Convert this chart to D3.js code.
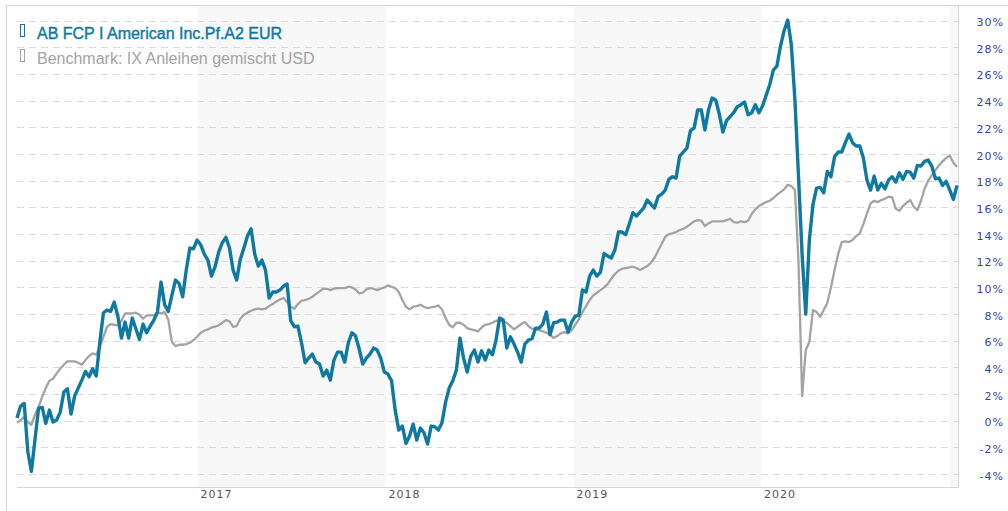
<!DOCTYPE html>
<html><head><meta charset="utf-8">
<script src="https://cdn.jsdelivr.net/npm/d3@7"></script>
<style>html,body{margin:0;padding:0;background:#fff;} svg{display:block}</style>
</head><body>
<svg id="chart" width="1008" height="511"></svg>
<script>
const seriesNames = ["AB FCP I American Inc.Pf.A2 EUR", "Benchmark: IX Anleihen gemischt USD"];
const seriesColors = ["#0f79a0", "#a3a3a3"];
const startDate = "2016-01-15";   // first weekly observation
const stepDays = 7;               // weekly observations
const fundValues = [
 0.2, 1.1, 1.3, -2.3, -3.8, -1.4, 0.95, 1.0, -0.2, 0.8,
 -0.1, 0.05, 0.65, 2.15, 2.4, 0.5, 1.85, 2.45, 3.05, 3.7,
 3.3, 3.9, 3.35, 5.9, 8.1, 8.3, 8.2, 8.9, 7.85, 6.2,
 7.4, 6.2, 7.7, 6.9, 6.1, 7.25, 6.6, 7.1, 7.55, 8.15,
 10.4, 8.7, 8.2, 9.4, 10.55, 10.3, 9.3, 11.3, 12.95, 12.9,
 13.55, 13.2, 12.5, 12.05, 10.85, 11.55, 12.65, 13.35, 13.75, 12.95,
 11.3, 10.55, 12.1, 12.95, 13.85, 14.4, 12.5, 11.6, 12.05, 11.3,
 9.2, 9.65, 9.65, 9.8, 10.1, 10.25, 7.5, 7.05, 7.1, 5.85,
 4.35, 4.7, 5.0, 4.4, 4.25, 3.35, 3.8, 3.05, 4.55, 5.15,
 5.15, 4.4, 5.85, 6.6, 6.35, 5.4, 4.25, 4.7, 5.0, 5.45,
 5.3, 4.7, 3.65, 3.5, 3.0, 0.8, -0.7, -0.4, -1.7, -1.15,
 -0.25, -1.45, -0.55, -0.9, -1.75, -0.4, -0.45, -0.7, -0.15, 1.4,
 2.45, 3.0, 3.8, 6.2, 4.7, 3.65, 4.85, 5.3, 4.4, 5.25,
 4.55, 5.3, 4.95, 6.05, 7.7, 7.55, 5.45, 6.3, 5.75, 5.15,
 4.4, 5.75, 6.05, 6.15, 6.95, 6.95, 7.25, 8.15, 6.45, 7.35,
 7.4, 7.55, 7.55, 6.65, 7.4, 7.85, 7.9, 9.8, 9.65, 10.85,
 11.3, 10.85, 11.15, 12.55, 12.35, 12.2, 12.8, 14.15, 14.15, 13.95,
 14.75, 15.6, 15.35, 15.65, 15.95, 16.55, 16.25, 15.95, 16.8, 17.0,
 17.3, 18.1, 18.3, 18.2, 19.85, 20.15, 20.45, 21.75, 21.95, 23.3,
 23.3, 21.8, 23.3, 24.2, 24.05, 23.0, 21.65, 22.5, 22.8, 23.1,
 23.55, 23.7, 23.9, 22.95, 23.1, 23.7, 23.1, 23.6, 24.4, 25.2,
 26.3, 26.6, 28.1, 29.25, 30.05, 28.2, 24.05, 18.3, 12.45, 8.0,
 13.55, 16.2, 17.45, 17.5, 17.1, 18.7, 18.3, 19.8, 20.15, 20.15,
 20.85, 21.5, 20.85, 20.6, 20.6, 19.7, 18.05, 17.3, 18.35, 17.3,
 17.8, 17.4, 18.05, 18.3, 17.9, 18.6, 18.1, 18.7, 18.65, 18.2,
 19.15, 19.1, 19.45, 19.55, 19.1, 18.15, 18.2, 17.65, 17.95, 17.3,
 16.6, 17.65
];
const benchValues = [
 -0.15, 0.05, 0.3, -0.1, -0.3, 0.45, 1.05, 1.8, 2.45, 3.0,
 3.15, 3.55, 3.9, 4.2, 4.45, 4.45, 4.45, 4.35, 4.2, 4.55,
 4.85, 5.05, 4.95, 5.55, 6.3, 7.05, 7.25, 7.2, 7.15, 7.5,
 8.05, 8.05, 8.05, 8.1, 7.95, 7.65, 7.9, 7.9, 7.9, 8.1,
 8.05, 8.15, 7.6, 5.9, 5.6, 5.7, 5.7, 5.75, 5.85, 6.05,
 6.3, 6.6, 6.75, 6.85, 7.0, 7.05, 7.15, 7.35, 7.55, 7.45,
 7.05, 7.1, 7.65, 7.95, 8.1, 8.25, 8.35, 8.4, 8.35, 8.4,
 8.6, 8.75, 8.95, 9.1, 9.2, 8.9, 8.55, 8.4, 8.75, 9.0,
 9.05, 9.15, 9.3, 9.5, 9.7, 9.9, 9.9, 9.8, 9.9, 9.95,
 9.95, 9.95, 10.05, 10.0, 9.85, 9.55, 9.6, 9.85, 9.95, 9.9,
 9.8, 9.9, 10.0, 10.15, 10.05, 9.95, 9.65, 9.05, 8.55, 8.35,
 8.55, 8.6, 8.7, 8.55, 8.45, 8.5, 8.55, 8.65, 8.35, 7.7,
 7.2, 7.0, 7.35, 7.35, 7.2, 6.95, 6.85, 6.8, 6.7, 7.0,
 7.2, 7.25, 7.35, 7.5, 7.5, 7.45, 7.35, 7.1, 6.85, 7.05,
 7.25, 7.4, 7.1, 6.9, 6.85, 6.8, 6.7, 6.6, 6.45, 6.2,
 6.35, 6.55, 6.65, 6.55, 6.8, 7.2, 7.6, 8.15, 8.6, 9.05,
 9.4, 9.6, 9.8, 10.0, 10.25, 10.65, 11.0, 11.25, 11.4, 11.45,
 11.5, 11.55, 11.45, 11.3, 11.45, 11.6, 11.85, 12.2, 12.75, 13.25,
 13.8, 14.0, 14.05, 14.15, 14.3, 14.4, 14.55, 14.75, 14.95, 15.05,
 15.0, 14.6, 14.8, 14.95, 14.95, 14.95, 14.95, 15.05, 15.15, 14.9,
 14.85, 14.95, 14.9, 15.0, 15.5, 15.85, 16.1, 16.25, 16.4, 16.5,
 16.7, 16.95, 17.15, 17.35, 17.7, 17.6, 17.3, 11.8, 1.85, 5.3,
 5.9, 8.3, 8.15, 7.8, 8.3, 8.85, 10.0, 11.3, 12.5, 13.4,
 13.45, 13.4, 13.55, 13.85, 14.05, 14.75, 15.55, 16.3, 16.5, 16.4,
 16.55, 16.65, 16.8, 16.75, 15.9, 15.75, 16.1, 16.35, 16.55, 16.05,
 15.8, 16.5, 17.4, 18.0, 18.4, 18.8, 19.15, 19.45, 19.7, 19.9,
 19.35, 19.05
];
const yTicks = [-4,-2,0,2,4,6,8,10,12,14,16,18,20,22,24,26,28,30];
const yearTicks = [2017, 2018, 2019, 2020];
const shadedYears = [2017, 2019, 2021];

const svg = d3.select("#chart");
const W = 1008, H = 511;
const plot = {left: 17, right: 958, top: 5, bottom: 487};

const parse = d3.utcParse("%Y-%m-%d");
const t0 = parse(startDate);
const dates = fundValues.map((_, i) => d3.utcDay.offset(t0, i * stepDays));
const fund = fundValues.map((v, i) => ({date: dates[i], value: v}));
const bench = benchValues.map((v, i) => ({date: dates[i], value: v}));

const x = d3.scaleUtc().domain([dates[0], dates[dates.length - 1]]).range([17, 957]);
const y = d3.scaleLinear().domain([-4, 30]).range([474.1, 20.7]);

// frame
svg.append("line").attr("x1", 6.5).attr("x2", W).attr("y1", 5.5).attr("y2", 5.5).attr("stroke", "#d6d6d6");
svg.append("line").attr("x1", 6.5).attr("x2", 6.5).attr("y1", 5.5).attr("y2", H).attr("stroke", "#d6d6d6");

// shaded year bands
svg.append("g").selectAll("rect").data(shadedYears).join("rect")
  .attr("x", d => Math.max(plot.left, x(Date.UTC(d, 0, 1))))
  .attr("width", d => Math.min(plot.right, x(Date.UTC(d + 1, 0, 1))) - Math.max(plot.left, x(Date.UTC(d, 0, 1))))
  .attr("y", 6).attr("height", plot.bottom - 6)
  .attr("fill", "#f7f7f7");

// grid
svg.append("g").selectAll("line").data(yTicks).join("line")
  .attr("x1", plot.left).attr("x2", plot.right)
  .attr("y1", d => Math.round(y(d)) + 0.5).attr("y2", d => Math.round(y(d)) + 0.5)
  .attr("stroke", "#dadada").attr("stroke-dasharray", "7,5");

// right border + bottom axis line
svg.append("line").attr("x1", plot.right + 0.5).attr("x2", plot.right + 0.5).attr("y1", 5.5).attr("y2", plot.bottom + 0.5).attr("stroke", "#d6d6d6");
svg.append("line").attr("x1", plot.left).attr("x2", plot.right).attr("y1", plot.bottom + 0.5).attr("y2", plot.bottom + 0.5).attr("stroke", "#d6d6d6");

// y axis
const yAxis = svg.append("g").attr("transform", `translate(1004,0)`)
  .call(d3.axisRight(y).tickValues(yTicks).tickSize(0).tickPadding(0).tickFormat(d => d + "%"));
yAxis.select(".domain").remove();
yAxis.selectAll("text")
  .attr("text-anchor", "end").attr("x", 0).attr("dy", "0.45em")
  .attr("fill", "#33459f").style("font-family", "'DejaVu Sans', Verdana, sans-serif")
  .style("font-size", "11px").style("letter-spacing", "1px");

// x axis
const xAxis = svg.append("g").attr("transform", `translate(0,${plot.bottom})`)
  .call(d3.axisBottom(x).tickValues(yearTicks.map(yr => new Date(Date.UTC(yr, 0, 1)))).tickSize(0).tickPadding(0)
        .tickFormat(d3.utcFormat("%Y")));
xAxis.select(".domain").remove();
xAxis.selectAll("text")
  .attr("text-anchor", "start").attr("x", 2).attr("y", 11).attr("dy", 0)
  .attr("fill", "#555").style("font-family", "'DejaVu Sans', Verdana, sans-serif")
  .style("font-size", "11px").style("letter-spacing", "1px");

// lines
const line = d3.line().x(d => x(d.date)).y(d => y(d.value)).curve(d3.curveLinear);
svg.append("path").datum(bench).attr("d", line).attr("fill", "none")
  .attr("stroke", seriesColors[1]).attr("stroke-width", 2.3).attr("stroke-linejoin", "round");
svg.append("path").datum(fund).attr("d", line).attr("fill", "none")
  .attr("stroke", seriesColors[0]).attr("stroke-width", 3.4).attr("stroke-linejoin", "round");

// legend
const legend = svg.append("g");
const legendY = [39, 64];
seriesNames.forEach((name, i) => {
  legend.append("rect").attr("x", 20.5).attr("y", legendY[i] - 14.5).attr("width", 4).attr("height", 12)
    .attr("fill", "none").attr("stroke", seriesColors[i]).attr("stroke-width", 1);
  legend.append("text").attr("x", 37).attr("y", legendY[i]).text(name)
    .attr("fill", seriesColors[i])
    .style("font-family", "'Liberation Sans', Arial, sans-serif").style("font-size", "16px")
    .attr("stroke", i === 0 ? seriesColors[i] : "none").attr("stroke-width", i === 0 ? 0.4 : 0);
});
</script>
</body></html>
